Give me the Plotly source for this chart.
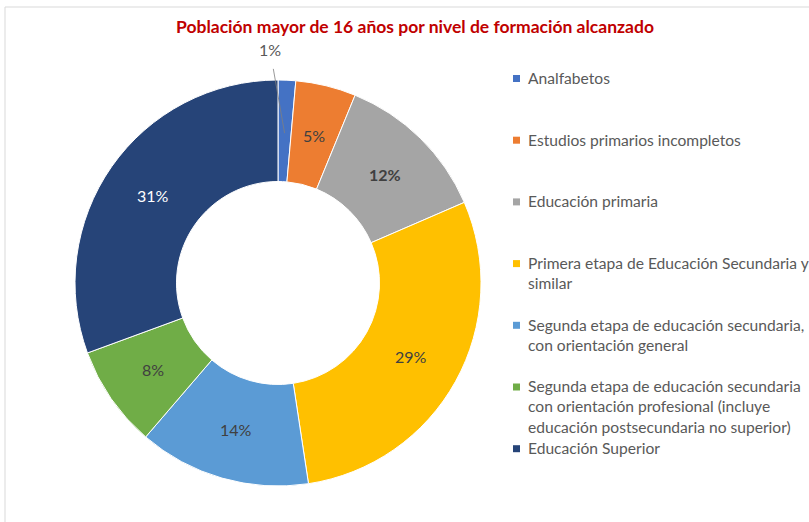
import math
import plotly.graph_objects as go

categories = [
    "Analfabetos",
    "Estudios primarios incompletos",
    "Educación primaria",
    "Primera etapa de Educación Secundaria y<br>similar",
    "Segunda etapa de educación secundaria,<br>con orientación general",
    "Segunda etapa de educación secundaria<br>con orientación profesional (incluye<br>educación postsecundaria no superior)",
    "Educación Superior",
]
values = [1.4, 4.8, 12.3, 29.1, 13.7, 8.1, 30.6]
colors = ["#4472C4", "#ED7D31", "#A5A5A5", "#FFC000", "#5B9BD5", "#70AD47", "#264478"]
text_colors = ["#595959", "#404040", "#404040", "#404040", "#404040", "#404040", "#FFFFFF"]
bold = [False, False, True, False, False, False, False]

W, H = 809, 522
FONT = "Lato"

cx, cy, R = 278, 283, 203
HOLE = 0.5
dom_x = [(cx - R) / W, (cx + R) / W]
dom_y = [(H - cy - R) / H, (H - cy + R) / H]

fig = go.Figure(go.Pie(
    labels=categories,
    values=values,
    hole=HOLE,
    sort=False,
    direction="clockwise",
    rotation=0,
    marker=dict(colors=colors, line=dict(color="#FFFFFF", width=1)),
    textinfo="none",
    domain=dict(x=dom_x, y=dom_y),
    hoverinfo="label+percent",
    showlegend=False,
))

# data labels at the slice mid-angle, mid-ring radius (Excel style)
total = sum(values)
cum = 0.0
r_mid = R * (1 + HOLE) / 2
for i, v in enumerate(values):
    ang = (cum + v / 2) / total * 2 * math.pi
    cum += v
    pct = f"{round(v / total * 100)}%"
    if bold[i]:
        pct = f"<b>{pct}</b>"
    font = dict(family=FONT, size=16, color=text_colors[i])
    if i == 0:
        # small slice: label outside with a leader line
        tip_r = 150
        tx = cx + tip_r * math.sin(ang)
        ty = cy - tip_r * math.cos(ang)
        fig.add_annotation(
            x=tx / W, y=1 - ty / H, xref="paper", yref="paper",
            ax=270 - tx, ay=50 - ty,
            text=pct, showarrow=True, arrowhead=0, arrowwidth=0.8,
            arrowcolor="#7F7F7F", standoff=0, startstandoff=8, font=font,
        )
    else:
        lx = cx + r_mid * math.sin(ang)
        ly_ = cy - r_mid * math.cos(ang)
        fig.add_annotation(x=lx / W, y=1 - ly_ / H, xref="paper", yref="paper",
                           xanchor="center", yanchor="middle", showarrow=False,
                           text=pct, font=font)

# legend drawn manually (Excel-like layout)
ly = 78.0
for name, col in zip(categories, colors):
    n = name.count("<br>") + 1
    fig.add_shape(type="rect", xref="paper", yref="paper",
                  x0=513 / W, x1=520 / W, y0=1 - (ly + 4) / H, y1=1 - (ly - 3) / H,
                  fillcolor=col, line=dict(width=0))
    fig.add_annotation(x=527 / W, y=1 - (ly - 10) / H, xref="paper", yref="paper",
                       xanchor="left", yanchor="top", align="left", showarrow=False,
                       text=name, font=dict(family=FONT, size=15.6, color="#595959"),
                       borderpad=0)
    ly += max(61.7, n * 20)

fig.add_shape(type="rect", xref="paper", yref="paper",
              x0=5 / W, y0=-0.1, x1=1.1, y1=1 - 7 / H,
              line=dict(color="#D9D9D9", width=1), fillcolor="rgba(0,0,0,0)")

fig.update_layout(
    width=W, height=H,
    margin=dict(l=0, r=0, t=0, b=0, autoexpand=False),
    paper_bgcolor="white", plot_bgcolor="white",
    title=dict(text="<b>Población mayor de 16 años por nivel de formación alcanzado</b>",
               x=415 / W, xanchor="center", y=1 - 27 / H, yanchor="middle",
               font=dict(family=FONT, size=17.5, color="#C00000")),
    showlegend=False,
)

fig.write_html("out.html", config={"displayModeBar": False},
               post_script="document.body.style.margin='0';")
